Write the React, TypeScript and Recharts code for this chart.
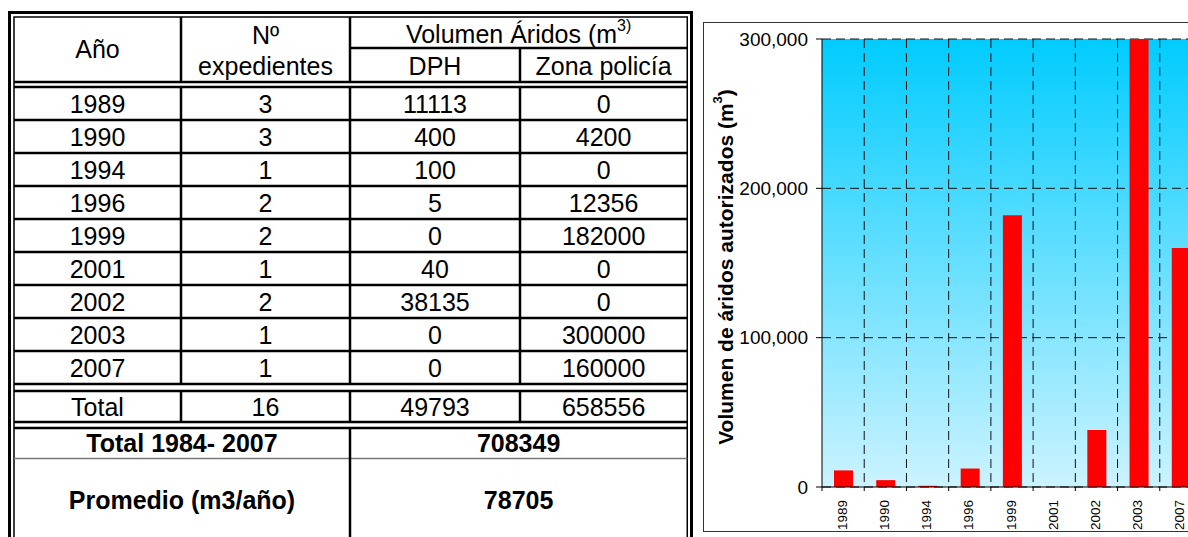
import React from 'react';
import { BarChart, Bar, XAxis, YAxis, CartesianGrid, Label } from 'recharts';

const years = ['1989', '1990', '1994', '1996', '1999', '2001', '2002', '2003', '2007'];
const expedientes = [3, 3, 1, 2, 2, 1, 2, 1, 1];
const dph = [11113, 400, 100, 5, 0, 40, 38135, 0, 0];
const zonaPolicia = [0, 4200, 0, 12356, 182000, 0, 0, 300000, 160000];
const totals = ['Total', '16', '49793', '658556'];
const totalPeriodLabel = 'Total 1984- 2007';
const totalPeriodValue = '708349';
const averageLabel = 'Promedio (m3/año)';
const averageValue = '78705';
// chart values
const chartVolumes = [11113, 4600, 800, 12361, 182000, 40, 38135, 300000, 160000];
const yTicks = [0, 100000, 200000, 300000];

const chartData = years.map((y, i) => ({ year: y, vol: chartVolumes[i] }));

const FONT = "'Liberation Sans', Arial, Helvetica, sans-serif";
const TFS = 25;

const XTick = (props: any) => {
  const { x, y, payload } = props;
  const off = payload && typeof payload.offset === 'number' && payload.offset > 0 ? payload.offset : 21.1;
  const ax = x + 3.5;
  return (
    <g>
      <line x1={x + off} x2={x + off} y1={y - 13} y2={y - 9} stroke="#000" strokeWidth={1} />
      {payload.index === 0 && <line x1={x - off} x2={x - off} y1={y - 13} y2={y - 9} stroke="#000" strokeWidth={1} />}
      <text x={ax} y={y} transform={`rotate(-90 ${ax} ${y})`} textAnchor="end" fontSize={13.5} fontFamily={FONT} fill="#000">
        {payload.value}
      </text>
    </g>
  );
};

const YTitle = (props: any) => {
  const vb = props.viewBox || { x: 0, y: 0, width: 118, height: 448 };
  const cx = vb.x + 21;
  const cy = vb.y + vb.height / 2 + 4;
  return (
    <text x={cx} y={cy} transform={`rotate(-90 ${cx} ${cy})`} textAnchor="middle" dominantBaseline="central" fontSize={21} fontWeight="bold" fontFamily={FONT} fill="#000">
      Volumen de áridos autorizados (m<tspan dy={-8} fontSize={13}>3</tspan><tspan dy={8}>)</tspan>
    </text>
  );
};

const Table = () => {
  const L = 14, R = 687.25;
  const cA = 181, cB = 350, cC = 520;
  const dataTop = 87, rowH = 33;
  const dataBottom = dataTop + rowH * years.length;
  const totTop = dataBottom + 7, totBottom = totTop + 31;
  const botTop = totBottom + 6, midLine = botTop + 30.5;
  const colX = [(L + cA) / 2, (cA + cB) / 2, (cB + cC) / 2, (cC + R) / 2];
  const lw = 2.5;
  const hl = (y: number, x1: number, x2: number, key: string, w = lw, c = '#000') => (
    <line key={key} x1={x1} x2={x2} y1={y} y2={y} stroke={c} strokeWidth={w} />
  );
  const vl = (x: number, y1: number, y2: number, key: string) => (
    <line key={key} x1={x} x2={x} y1={y1} y2={y2} stroke="#000" strokeWidth={lw} />
  );
  const txt = (x: number, y: number, s: any, key: string, bold = false) => (
    <text key={key} x={x} y={y} textAnchor="middle" dominantBaseline="central" fontSize={TFS} fontWeight={bold ? 'bold' : 'normal'} fontFamily={FONT} fill="#000">{s}</text>
  );
  const rows: any[] = [];
  years.forEach((yr, i) => {
    const cy = dataTop + rowH * i + rowH / 2;
    rows.push(txt(colX[0], cy, yr, 'y' + i));
    rows.push(txt(colX[1], cy, String(expedientes[i]), 'e' + i));
    rows.push(txt(colX[2], cy, String(dph[i]), 'd' + i));
    rows.push(txt(colX[3], cy, String(zonaPolicia[i]), 'z' + i));
    if (i > 0) rows.push(hl(dataTop + rowH * i, L, R, 'rl' + i));
  });
  const totCy = (totTop + totBottom) / 2;
  return (
    <svg width={700} height={537} style={{ position: 'absolute', left: 0, top: 0 }}>
      <rect x={9.5} y={12.5} width={682} height={600} fill="none" stroke="#000" strokeWidth={3} />
      <rect x={L} y={17} width={R - L} height={600} fill="none" stroke="#000" strokeWidth={1.5} />
      {hl(48, cB, R, 'h48')}
      {hl(82, L, R, 'h82')}
      {hl(dataTop, L, R, 'hdt')}
      {hl(dataBottom, L, R, 'hdb')}
      {hl(totTop, L, R, 'htt')}
      {hl(totBottom, L, R, 'htb')}
      {hl(botTop, L, R, 'hbt')}
      {hl(midLine, L, R, 'hml', 1.5, '#777')}
      {vl(cA, 17, 82, 'va1')}{vl(cB, 17, 82, 'vb1')}{vl(cC, 48, 82, 'vc1')}
      {vl(cA, dataTop, dataBottom, 'va2')}{vl(cB, dataTop, dataBottom, 'vb2')}{vl(cC, dataTop, dataBottom, 'vc2')}
      {vl(cA, totTop, totBottom, 'va3')}{vl(cB, totTop, totBottom, 'vb3')}{vl(cC, totTop, totBottom, 'vc3')}
      {vl(cB, botTop, 560, 'vb4')}
      {txt(colX[0], 49, 'Año', 'hA')}
      {txt(colX[1], 35, 'Nº', 'hN')}
      {txt(colX[1], 66, 'expedientes', 'hE')}
      <text x={(cB + R) / 2} y={34} textAnchor="middle" dominantBaseline="central" fontSize={TFS} fontFamily={FONT} fill="#000">
        Volumen Áridos (m<tspan dy={-9} fontSize={16}>3)</tspan>
      </text>
      {txt(colX[2], 66, 'DPH', 'hD')}
      {txt(colX[3], 66, 'Zona policía', 'hZ')}
      {rows}
      {totals.map((t, i) => txt(colX[i], totCy, t, 't' + i))}
      {txt((L + cB) / 2, (botTop + midLine) / 2, totalPeriodLabel, 'tp', true)}
      {txt((cB + R) / 2, (botTop + midLine) / 2, totalPeriodValue, 'tv', true)}
      {txt((L + cB) / 2, 500, averageLabel, 'al', true)}
      {txt((cB + R) / 2, 500, averageValue, 'av', true)}
    </svg>
  );
};

export default function App() {
  return (
    <div style={{ position: 'absolute', left: 0, top: 0, width: 1188, height: 537, overflow: 'hidden', background: '#fff' }}>
      <Table />
      <div style={{ position: 'absolute', left: 703, top: 22, width: 600, height: 510, boxSizing: 'border-box', border: '1px solid #333' }} />
      <div style={{ position: 'absolute', left: 704, top: 23 }}>
        <BarChart width={510} height={508} data={chartData} margin={{ top: 16, right: 12, bottom: 0, left: 0 }}>
          <defs>
            <linearGradient id="bgGrad" x1="0" y1="0" x2="0" y2="1">
              <stop offset="0" stopColor="#00CCFF" />
              <stop offset="1" stopColor="#CCF3FF" />
            </linearGradient>
          </defs>
          <CartesianGrid
            fill="url(#bgGrad)"
            fillOpacity={1}
            stroke="#111"
            strokeDasharray="9 5"
            verticalCoordinatesGenerator={({ offset }: any) =>
              years.map((_, i) => offset.left + ((i + 1) * offset.width) / years.length)
            }
          />
          <XAxis
            dataKey="year"
            height={44}
            interval={0}
            axisLine={{ stroke: '#000' }}
            tickLine={false}
            tickSize={4}
            tickMargin={9}
            tick={<XTick />}
          />
          <YAxis
            width={118}
            domain={[0, 300000]}
            ticks={yTicks}
            allowDataOverflow
            axisLine={{ stroke: '#000' }}
            tickLine={{ stroke: '#000' }}
            tickSize={6}
            tickMargin={8}
            tick={{ fill: '#000', fontSize: 19, fontFamily: FONT }}
            tickFormatter={(v: number) => v.toLocaleString('en-US')}
          >
            <Label content={<YTitle />} />
          </YAxis>
          <Bar dataKey="vol" fill="#FF0000" barSize={19} isAnimationActive={false} />
        </BarChart>
      </div>
    </div>
  );
}
